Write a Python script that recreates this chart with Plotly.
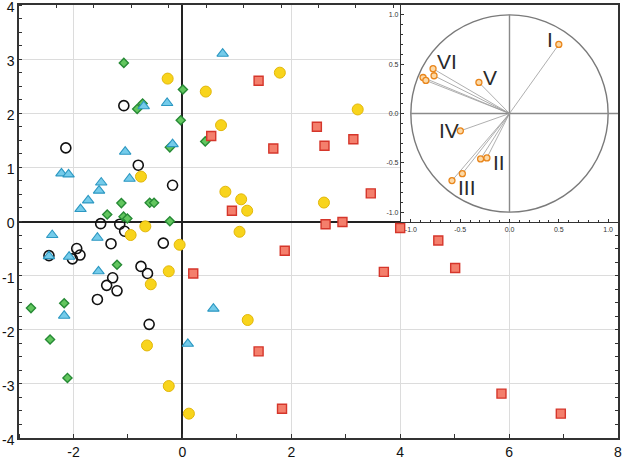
import plotly.graph_objects as go

# ---------------- main scatter data ----------------
yellow_x = [-0.27, -0.76, -0.68, -0.95, -0.05, -0.25, -0.58, -0.65, -0.25, 0.12,
            0.43, 1.79, 0.71, 3.22, 0.79, 1.08, 1.19, 2.60, 1.05, 1.20]
yellow_y = [2.64, 0.83, -0.09, -0.25, -0.43, -0.92, -1.16, -2.29, -3.04, -3.55,
            2.40, 2.75, 1.78, 2.07, 0.55, 0.41, 0.20, 0.35, -0.19, -1.82]

red_x = [1.40, 0.53, 1.67, 2.47, 2.61, 3.14, 3.46, 0.91, 2.63, 2.94,
         4.00, 1.88, 0.20, 3.70, 1.40, 1.83, 4.70, 5.01, 5.86, 6.95]
red_y = [2.60, 1.58, 1.35, 1.75, 1.40, 1.52, 0.52, 0.20, -0.05, -0.01,
         -0.12, -0.54, -0.96, -0.93, -2.40, -3.46, -0.35, -0.86, -3.18, -3.55]

blue_x = [-0.28, -0.71, -1.05, -0.18, -2.22, -2.09, -0.97, -1.49, -1.53, -1.73,
          -1.87, -2.39, -2.45, -2.08, -1.56, -1.54, -2.17, 0.10, 0.74, 0.57]
blue_y = [2.19, 2.13, 1.29, 1.43, 0.89, 0.87, 0.79, 0.72, 0.57, 0.39,
          0.23, -0.25, -0.64, -0.65, -0.30, -0.92, -1.74, -2.26, 3.10, -1.61]

green_x = [-1.075, 0.01, -0.83, -0.73, -0.03, -0.23, -1.12, -0.60, -0.52, -1.38,
           -1.08, -1.01, -0.23, -1.20, -2.17, -2.78, -2.43, -2.11, 0.42]
green_y = [2.93, 2.44, 2.08, 2.18, 1.87, 1.37, 0.34, 0.345, 0.345, 0.13,
           0.09, 0.055, 0.005, -0.80, -1.51, -1.60, -2.18, -2.89, 1.48]

black_x = [-1.075, -2.14, -0.81, -0.18, -1.50, -1.15, -1.06, -1.31, -0.35, -1.94,
           -1.88, -2.02, -2.45, -0.76, -0.64, -1.28, -1.39, -1.20, -1.56, -0.61]
black_y = [2.14, 1.36, 1.04, 0.67, -0.04, -0.05, -0.18, -0.41, -0.40, -0.50,
           -0.62, -0.69, -0.63, -0.83, -0.96, -1.04, -1.18, -1.28, -1.44, -1.90]

main_x_ticks = [-2, 0, 2, 4, 6, 8]
main_y_ticks = [-4, -3, -2, -1, 0, 1, 2, 3, 4]

# ---------------- inset (correlation circle) data ----------------
load_x = [0.50, -0.775, -0.765, -0.876, -0.848, -0.31, -0.498, -0.293, -0.229, -0.478, -0.583]
load_y = [0.70, 0.454, 0.383, 0.365, 0.335, 0.315, -0.176, -0.46, -0.45, -0.61, -0.68]

label_text = ["I", "VI", "V", "IV", "II", "III"]
label_x = [0.41, -0.634, -0.195, -0.614, -0.11, -0.434]
label_y = [0.755, 0.532, 0.367, -0.174, -0.495, -0.752]

inset_ticks = [-1.0, -0.5, 0.0, 0.5, 1.0]

fig = go.Figure()

def add_pts(xs, ys, symbol, size, fill, line, lw):
    fig.add_trace(go.Scatter(x=xs, y=ys, mode="markers", showlegend=False,
                             marker=dict(symbol=symbol, size=size, color=fill,
                                         line=dict(color=line, width=lw))))

add_pts(black_x, black_y, "circle", 10, "rgba(255,255,255,0)", "#111111", 1.6)
add_pts(green_x, green_y, "diamond", 7, "#62c65e", "#268a35", 1.4)
add_pts(blue_x, blue_y, "triangle-up", 10, "#74cbea", "#2c98c2", 1.1)
add_pts(yellow_x, yellow_y, "circle", 11, "#f8d41c", "#e2b70a", 1.0)
add_pts(red_x, red_y, "square", 9, "#f47f6c", "#d5362b", 1.4)

# dummy trace to anchor the tick-only overlay axis on top
fig.add_trace(go.Scatter(x=[None], y=[None], xaxis="x3", yaxis="y", showlegend=False))

# inset: lines from origin to loadings
lx, ly = [], []
for a, b in zip(load_x, load_y):
    lx += [0, a, None]
    ly += [0, b, None]
fig.add_trace(go.Scatter(x=lx, y=ly, mode="lines", xaxis="x2", yaxis="y2",
                         line=dict(color="#9a9a9a", width=0.8), showlegend=False))
fig.add_trace(go.Scatter(x=load_x, y=load_y, mode="markers", xaxis="x2", yaxis="y2",
                         showlegend=False,
                         marker=dict(symbol="circle", size=6, color="#fcd9a6",
                                     line=dict(color="#e9861c", width=1.3))))

for t, a, b in zip(label_text, label_x, label_y):
    fig.add_annotation(x=a, y=b, xref="x2", yref="y2", text=t, showarrow=False,
                       font=dict(family="Liberation Sans, Arial", size=21, color="#2a2a2a"))

# inset white background + circle + cross
fig.add_shape(type="rect", xref="x2", yref="y2", x0=-1.1, x1=1.1, y0=-1.1, y1=1.1,
              fillcolor="white", line=dict(width=0), layer="below")
fig.add_shape(type="circle", xref="x2", yref="y2", x0=-1, x1=1, y0=-1, y1=1,
              line=dict(color="#7a7a7a", width=1.4), layer="below")
fig.add_shape(type="line", xref="x2", yref="y2", x0=0, x1=0, y0=-1, y1=1,
              line=dict(color="#8a8a8a", width=1.4), layer="below")
fig.add_shape(type="line", xref="x2", yref="y2", x0=-1, x1=1.1, y0=0, y1=0,
              line=dict(color="#8a8a8a", width=1.4), layer="below")

tickfont = dict(family="Liberation Sans, Arial", size=14, color="#111111")
smallfont = dict(family="Liberation Sans, Arial", size=7, color="#333333")

fig.update_layout(
    width=622, height=459,
    margin=dict(l=19, r=4, t=5, b=21, autoexpand=False),
    paper_bgcolor="white", plot_bgcolor="white",
    xaxis=dict(range=[-3, 8], tickmode="array", tickvals=main_x_ticks,
               ticktext=[str(v) for v in main_x_ticks], ticks="", automargin=False,
               ticklabeloverflow="allow",
               showgrid=True, gridcolor="#dcdcdc", gridwidth=1,
               zeroline=True, zerolinecolor="#222222", zerolinewidth=1.5,
               showline=True, linecolor="#333333", linewidth=1.5, mirror=True,
               minor=dict(dtick=1, tick0=0, ticks="inside", ticklen=4, tickcolor="#333333",
                          showgrid=False),
               tickfont=tickfont, fixedrange=True),
    yaxis=dict(range=[-4, 4], tickmode="array", tickvals=main_y_ticks,
               ticktext=[str(v) for v in main_y_ticks], ticks="", automargin=False,
               ticklabeloverflow="allow", ticklabelshift=2,
               showgrid=True, gridcolor="#dcdcdc", gridwidth=1,
               zeroline=True, zerolinecolor="#222222", zerolinewidth=1.5,
               showline=True, linecolor="#333333", linewidth=1.5, mirror="allticks",
               minor=dict(dtick=0.25, tick0=0, ticks="inside", ticklen=3, tickcolor="#333333",
                          showgrid=False),
               tickfont=tickfont, fixedrange=True),
    xaxis3=dict(overlaying="x", side="top", anchor="y", range=[0, 16], dtick=1,
                ticks="inside", ticklen=3, tickcolor="#333333", showticklabels=False,
                automargin=False,
                showgrid=False, zeroline=False, showline=False, fixedrange=True),
    xaxis2=dict(domain=[0.6377, 1.0], anchor="y2", range=[-1.1, 1.1],
                tickmode="array", tickvals=inset_ticks, automargin=False,
                ticktext=["%.1f" % v for v in inset_ticks], ticklabeloverflow="allow",
                ticks="inside", ticklen=3, tickcolor="#333333",
                minor=dict(dtick=0.1, tick0=0, ticks="inside", ticklen=2, tickcolor="#333333"),
                showgrid=False, zeroline=False,
                showline=True, linecolor="#333333", linewidth=1.2, mirror=True,
                tickfont=smallfont, fixedrange=True),
    yaxis2=dict(domain=[0.4988, 1.0], anchor="x2", range=[-1.1, 1.1],
                tickmode="array", tickvals=inset_ticks, automargin=False,
                ticktext=["%.1f" % v for v in inset_ticks], ticklabeloverflow="allow",
                ticks="inside", ticklen=3, tickcolor="#333333",
                minor=dict(dtick=0.1, tick0=0, ticks="inside", ticklen=2, tickcolor="#333333"),
                showgrid=False, zeroline=False,
                showline=True, linecolor="#333333", linewidth=1.2, mirror=True,
                tickfont=smallfont, fixedrange=True),
)

fig.write_html("out.html", config={"displayModeBar": False},
               post_script="document.body.style.margin='0';document.body.style.padding='0';")
